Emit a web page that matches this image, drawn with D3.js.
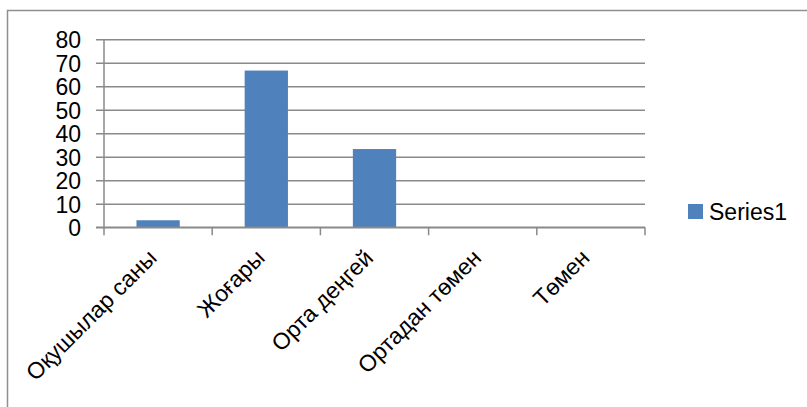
<!DOCTYPE html>
<html>
<head>
<meta charset="utf-8">
<script src="https://cdn.jsdelivr.net/npm/d3@7"></script>
<style>
  html, body { margin: 0; padding: 0; background: #fff; }
  svg { display: block; }
  text { font-family: "Liberation Sans", Arial, sans-serif; fill: #000; }
</style>
</head>
<body>
<svg id="chart" width="807" height="407"></svg>
<script>
const categories = ["Оқушылар саны", "Жоғары", "Орта деңгей", "Ортадан төмен", "Төмен"];
const values = [3, 66.7, 33.3, 0, 0];
const yTicks = [0, 10, 20, 30, 40, 50, 60, 70, 80];
const seriesName = "Series1";

(function () {
const svg = d3.select("#chart");
const left = 104, right = 645, plotTop = 39.3, plotBottom = 227.3;
const gridColor = "#8a8a8a";
const barColor = "#4F81BD";

// outer frame
svg.append("path")
  .attr("d", "M7.5,420 V10.5 H820")
  .attr("fill", "none").attr("stroke", "#8f8f8f").attr("stroke-width", 1.5);

const x = d3.scaleBand().domain(categories).range([left, right]).paddingInner(0.6).paddingOuter(0.3);
const xc = d3.scaleBand().domain(categories).range([left, right]).padding(0);
const y = d3.scaleLinear().domain([0, 80]).range([plotBottom, plotTop]);

// gridlines + y ticks
const yAxis = d3.axisLeft(y).tickValues(yTicks).tickSize(-(right - left)).tickSizeOuter(0).tickFormat(d3.format("d"));
const gy = svg.append("g").attr("transform", `translate(${left},0)`).call(yAxis);
gy.select(".domain").remove();
gy.selectAll(".tick line").attr("x1", -8).attr("stroke", gridColor).attr("stroke-width", 1.5);
gy.selectAll(".tick text").attr("font-size", 23).attr("dy", "0.36em").attr("x", -23);

// y axis line
svg.append("line").attr("x1", left).attr("x2", left).attr("y1", plotTop).attr("y2", plotBottom)
  .attr("stroke", gridColor).attr("stroke-width", 1.5);

// bars
svg.append("g").selectAll("rect").data(values).join("rect")
  .attr("x", (d, i) => x(categories[i]))
  .attr("width", x.bandwidth())
  .attr("y", d => y(d))
  .attr("height", d => y(0) - y(d))
  .attr("fill", barColor);

// x axis
svg.append("line").attr("x1", left - 8).attr("x2", right).attr("y1", plotBottom).attr("y2", plotBottom)
  .attr("stroke", gridColor).attr("stroke-width", 1.5);
const bounds = categories.map(c => xc(c)).concat([right]);
svg.append("g").selectAll("line").data(bounds).join("line")
  .attr("x1", d => d).attr("x2", d => d)
  .attr("y1", plotBottom).attr("y2", plotBottom + 8)
  .attr("stroke", gridColor).attr("stroke-width", 1.5);

// x labels
svg.append("g").selectAll("text").data(categories).join("text")
  .attr("transform", d => `translate(${xc(d) + xc.bandwidth() / 2 + 0},${plotBottom + 32}) rotate(-45)`)
  .attr("text-anchor", "end")
  .attr("font-size", 23)
  .text(d => d);

// legend
const lg = svg.append("g").attr("transform", "translate(688,204)");
lg.append("rect").attr("width", 15).attr("height", 15).attr("fill", barColor);
lg.append("text").attr("x", 21).attr("y", 16).attr("font-size", 23).text(seriesName);
})();
</script>
</body>
</html>
